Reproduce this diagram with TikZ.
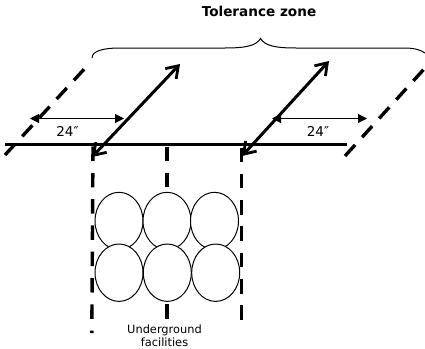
\documentclass[tikz,border=0pt]{standalone}
\usepackage{fontspec}
\setmainfont{DejaVu Sans}
\usetikzlibrary{arrows.meta,shapes.geometric}
\tikzset{
  x=1pt,y=-1pt,
  thickline/.style={line width=3.4pt,draw=black},
  dashline/.style={line width=3.4pt,draw=black,dash pattern=on 14.5pt off 11.8pt},
  slantdash/.style={line width=3.4pt,draw=black,dash pattern=on 15pt off 10.4pt},
  bigarrow/.style={line width=3pt,draw=black,{Straight Barb[length=11pt,width=15pt,line width=2.8pt]}-{Straight Barb[length=11pt,width=15pt,line width=2.8pt]}},
  smallarrow/.style={line width=1.1pt,draw=black,{Triangle[length=9pt,width=9pt]}-{Triangle[length=9pt,width=9pt]}},
  pipe/.style={ellipse,draw=black,fill=white,line width=1pt,minimum width=48pt,minimum height=57.4pt,inner sep=0pt},
  lbl/.style={font=\fontsize{13.5}{15}\selectfont,inner sep=0pt},
  small/.style={font=\fontsize{11.4}{13.4}\selectfont,inner sep=0pt,align=center},
  titletext/.style={font=\fontsize{13.6}{15}\selectfont\bfseries,inner sep=0pt},
  bracepath/.style={line width=1pt,draw=black}
}
\begin{document}
\begin{tikzpicture}
\useasboundingbox (0,0) rectangle (425,348);
% named points
\coordinate (hl) at (5,144.5);
\coordinate (hr) at (347,144.5);
\coordinate (ld1) at (5,155);
\coordinate (ld2) at (88,65);
\coordinate (rd1) at (345,156);
\coordinate (rd2) at (425,68);
\coordinate (va1) at (93,146.5);
\coordinate (va2) at (91.8,333);
\coordinate (vb1) at (167,146.5);
\coordinate (vb2) at (167,320);
\coordinate (vc1) at (241.4,147.5);
\coordinate (vc2) at (241.4,321);
\coordinate (a1s) at (92,157);
\coordinate (a1e) at (180,64);
\coordinate (a2s) at (242,156);
\coordinate (a2e) at (329,61);
\coordinate (b1s) at (30,118.5);
\coordinate (b1e) at (124,118.5);
\coordinate (b2s) at (272,118.5);
\coordinate (b2e) at (367,118.5);
\coordinate (bl) at (92,58);
\coordinate (bt) at (260.5,38.5);
\coordinate (br) at (425,53);
% dashed lines
\draw[slantdash] (ld1) -- (ld2);
\draw[slantdash] (rd1) -- (rd2);
\draw[dashline] (va1) -- (va2);
\draw[dashline] (vb1) -- (vb2);
\draw[dashline] (vc1) -- (vc2);
% circles
\node[pipe] (p1) at (119,221) {};
\node[pipe] (p2) at (167,221) {};
\node[pipe] (p3) at (214.5,221) {};
\node[pipe] (p4) at (119,272.7) {};
\node[pipe] (p5) at (167.3,272.7) {};
\node[pipe] (p6) at (215.7,272.7) {};
% main line and arrows
\draw[thickline] (hl) -- (hr);
\draw[bigarrow] (a1s) -- (a1e);
\draw[bigarrow] (a2s) -- (a2e);
\draw[smallarrow] (b1s) -- (b1e);
\draw[smallarrow] (b2s) -- (b2e);
% brace
\draw[bracepath] (bl) .. controls (92,51) and (103,48) .. (120,48)
  -- (225,48) .. controls (245,48) and (256,46) .. (bt)
  .. controls (265,46) and (276,48) .. (296,48)
  -- (405,48) .. controls (414,48) and (421,50) .. (br);
% labels
\node[titletext] (title) at (259,11) {Tolerance zone};
\node[lbl] (l1) at (67.5,131) {24″};
\node[lbl] (l2) at (318,131) {24″};
\node[small] (under) at (164.5,335.5) {Underground\\facilities};
\end{tikzpicture}
\end{document}
